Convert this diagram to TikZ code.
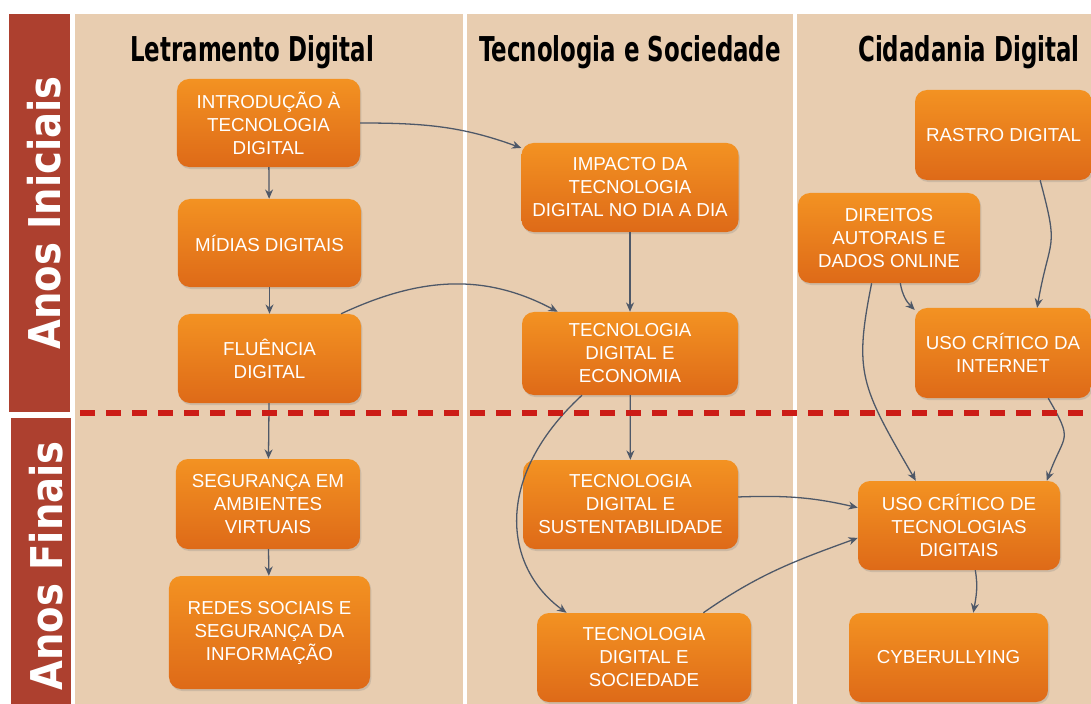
\documentclass[tikz,border=0pt]{standalone}
\usepackage{fontspec}
\setmainfont{Liberation Sans}
\newfontfamily\headfont{DejaVu Sans}[FakeStretch=0.67]
\newfontfamily\stagefont{DejaVu Sans}[FakeStretch=0.88]
\usetikzlibrary{arrows.meta,shadows}
\definecolor{panel}{RGB}{232,205,176}
\definecolor{barred}{RGB}{173,64,47}
\definecolor{boxtop}{RGB}{243,146,34}
\definecolor{boxbot}{RGB}{222,106,24}
\definecolor{linkgray}{RGB}{78,88,104}
\definecolor{dashred}{RGB}{204,28,22}
\tikzset{
  topic/.style={rounded corners=0.36cm, top color=boxtop, bottom color=boxbot, text=white, align=center, inner sep=0pt,
    font=\fontsize{16}{19.6}\selectfont, drop shadow={opacity=0.25,shadow xshift=0.04cm,shadow yshift=-0.06cm}},
  link/.style={-{Stealth[length=2.8mm,width=2.4mm]}, line width=1.1pt, draw=linkgray},
  heading/.style={anchor=base, font=\headfont\bfseries\fontsize{29.2}{30}\selectfont},
  stage/.style={text=white, rotate=90, font=\stagefont\bfseries\fontsize{37.4}{40}\selectfont}
}
\begin{document}
\begin{tikzpicture}[x=0.03cm,y=0.03cm]
\useasboundingbox (0,0) rectangle (1091,-704);
\fill[white] (0,0) rectangle (1091,-704);
\foreach \a/\b in {75/463,467/793,797/1091}{
    \fill[panel] (\a,-14) rectangle (\b,-704);
}
\fill[barred] (9,-14) rectangle (70,-412);
\fill[barred] (11,-418) rectangle (71,-704);
\node[stage] (ini) at (44,-213) {Anos Iniciais};
\node[stage] (fin) at (46,-566) {Anos Finais};

\node[heading] (hlit) at (252,-62) {Letramento Digital};
\node[heading] (hsoc) at (630,-62) {Tecnologia e Sociedade};
\node[heading] (hcid) at (969,-62) {Cidadania Digital};

\node[topic, minimum width=5.49cm, minimum height=2.64cm] (intro) at (268.5,-123) {INTRODUÇÃO À\\TECNOLOGIA\\DIGITAL};
\node[topic, minimum width=5.49cm, minimum height=2.64cm] (midias) at (269.5,-243) {MÍDIAS DIGITAIS};
\node[topic, minimum width=5.49cm, minimum height=2.67cm] (fluencia) at (269.5,-358.5) {FLUÊNCIA\\DIGITAL};
\node[topic, minimum width=5.52cm, minimum height=2.7cm] (seguranca) at (268,-504) {SEGURANÇA EM\\AMBIENTES\\VIRTUAIS};
\node[topic, minimum width=6.03cm, minimum height=3.39cm] (redes) at (269.5,-632.5) {REDES SOCIAIS E\\SEGURANÇA DA\\INFORMAÇÃO};

\node[topic, minimum width=6.51cm, minimum height=2.67cm] (impacto) at (630,-187.5) {IMPACTO DA\\TECNOLOGIA\\DIGITAL NO DIA A DIA};
\node[topic, minimum width=6.48cm, minimum height=2.49cm] (economia) at (630,-353.5) {TECNOLOGIA\\DIGITAL E\\ECONOMIA};
\node[topic, minimum width=6.45cm, minimum height=2.67cm] (sustent) at (630.5,-504.5) {TECNOLOGIA\\DIGITAL E\\SUSTENTABILIDADE};
\node[topic, minimum width=6.42cm, minimum height=2.67cm] (sociedade) at (644,-657.5) {TECNOLOGIA\\DIGITAL E\\SOCIEDADE};

\node[topic, minimum width=5.31cm, minimum height=2.7cm] (rastro) at (1003.5,-135) {RASTRO DIGITAL};
\node[topic, minimum width=5.46cm, minimum height=2.7cm] (direitos) at (889,-238) {DIREITOS\\AUTORAIS E\\DADOS ONLINE};
\node[topic, minimum width=5.28cm, minimum height=2.7cm] (internet) at (1003,-353) {USO CRÍTICO DA\\INTERNET};
\node[topic, minimum width=6.06cm, minimum height=2.67cm] (usotec) at (959,-525.5) {USO CRÍTICO DE\\TECNOLOGIAS\\DIGITAIS};
\node[topic, minimum width=5.97cm, minimum height=2.67cm] (cyber) at (948.5,-657.5) {CYBERULLYING};

\draw[link] (intro) -- (midias);
\draw[link] (midias) -- (fluencia);
\draw[link] (fluencia) -- (seguranca);
\draw[link] (seguranca) -- (redes);
\draw[link] (impacto) -- (economia);
\draw[link] (economia) -- (sustent);
\draw[link] (intro.east) to[out=0,in=160] (impacto.160);
\draw[link] (fluencia.32) to[out=25,in=152] (economia.150);
\draw[link] (economia.221) .. controls +(-90,-83) and +(-62,45) .. (sociedade.150);
\draw[link] (sustent.4) to[out=2,in=167] (usotec.170);
\draw[link] (sociedade.37) to[out=35,in=200] (usotec.187);
\draw[link] (rastro.-51) to[out=-75,in=80,looseness=1.5] (internet.53);
\draw[link] (direitos.-76) to[out=-80,in=135] (internet.154);
\draw[link] (direitos.-111) .. controls +(-18,-90) and +(-55,95) .. (usotec.134);
\draw[link] (internet.-45) to[out=-60,in=70,looseness=1.6] (usotec.27);
\draw[link] (usotec.-70) to[out=-80,in=80] (cyber.61);

\draw[dashred, line width=5pt, dash pattern=on 0.45cm off 0.33cm] (80,-413) -- (1091,-413);
\end{tikzpicture}
\end{document}
